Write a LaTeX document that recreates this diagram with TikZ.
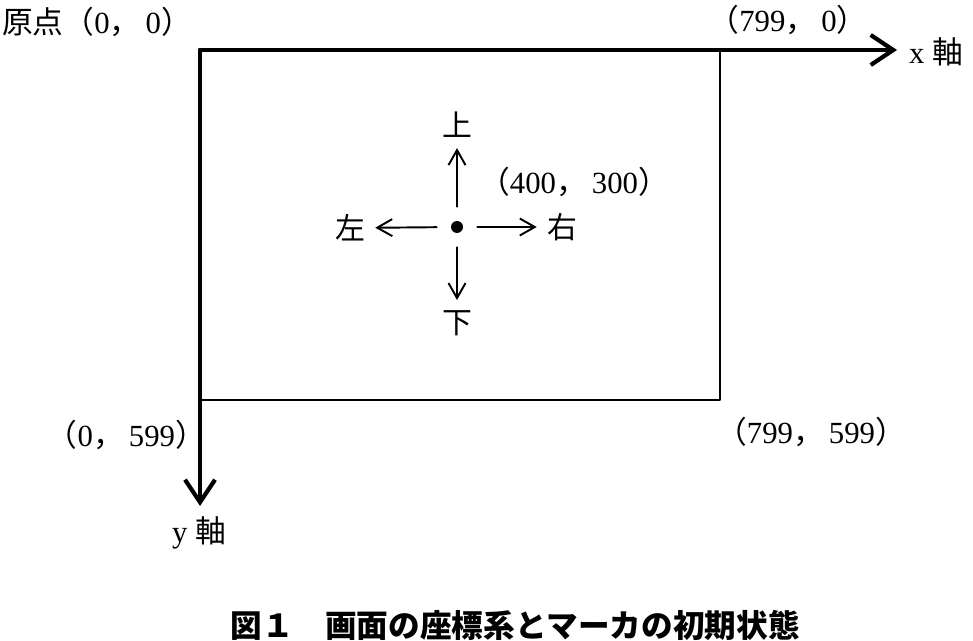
\documentclass[tikz,border=0pt]{standalone}
\usepackage{fontspec}
\setmainfont{Liberation Serif}
\newfontfamily\jp{Noto Sans CJK JP}
\usetikzlibrary{arrows.meta,positioning}
\newcommand\scrpos[2]{{\jp （}#1{\jp ，}\,#2{\jp ）}}
\tikzset{
  axis/.style={line width=2.4pt,-{Straight Barb[length=0.45cm,width=0.6cm]}},
  frame/.style={line width=1.1pt},
  move/.style={line width=1.1pt,-{Straight Barb[length=0.3cm,width=0.34cm]},shorten <=0.28cm},
  dir/.style={inner sep=0.2cm,font=\jp\fontsize{17}{20}\selectfont},
  marker/.style={circle,fill,inner sep=0pt,minimum size=0.24cm},
}
\begin{document}
\begin{tikzpicture}[x=0.02cm,y=-0.02cm,font=\fontsize{17.5}{20}\selectfont,line join=round,line cap=round]
\useasboundingbox (0,0) rectangle (973,641);
\coordinate (O) at (200,50);
\coordinate (B) at (720,400);
\coordinate (xtip) at (897,50);
\coordinate (ytip) at (200,506);
% screen and axes
\draw[frame] (O) rectangle (B);
\draw[axis] (O) -- (xtip);
\draw[axis] (O) -- (ytip);
\node[anchor=west] (xl) at (903,52) {x {\jp 軸}};
\node (yl) at (199,533) {y {\jp 軸}};
\node[anchor=west] (org) at (-4,22) {{\jp 原点}\scrpos{0}{0}};
\node (cx) at (788,20) {\scrpos{799}{0}};
\node[anchor=east] (cy) at (212,435) {\scrpos{0}{599}};
\node[anchor=west] (cxy) at (710,432) {\scrpos{799}{599}};
% marker
\node[marker] (m) at (457,227) {};
\node (pc) at (574,182) {\scrpos{400}{300}};
\node[dir] (up) at (457,125) {上};
\node[dir] (dn) at (457,323) {下};
\node[dir] (lf) at (350,228) {左};
\node[dir] (rt) at (562,227) {右};
\foreach \d in {up,dn,lf,rt}
  \draw[move] (m) -- (\d);
\node[font=\jp\bfseries\fontsize{18}{22}\selectfont] (cap) at (515,625) {図１　画面の座標系とマーカの初期状態};
\end{tikzpicture}
\end{document}
